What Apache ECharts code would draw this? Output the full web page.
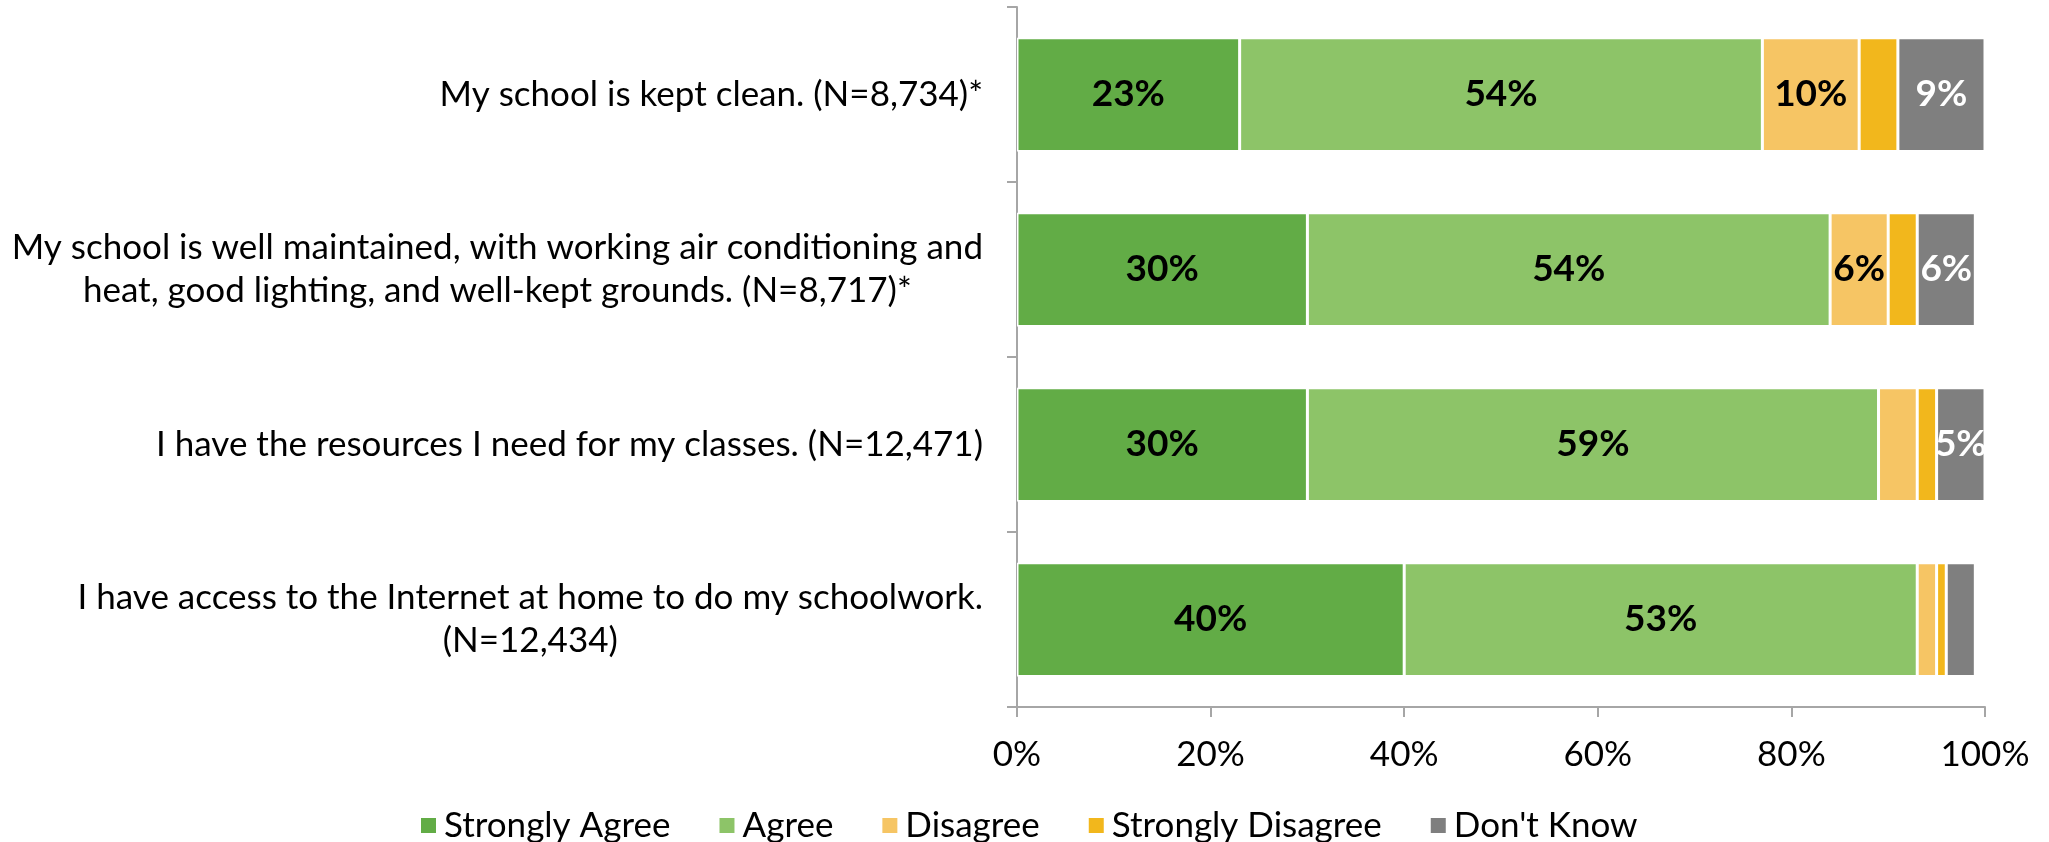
<!DOCTYPE html>
<html>
<head>
<meta charset="utf-8">
<script src="https://cdn.jsdelivr.net/npm/echarts@6/dist/echarts.min.js"></script>
<style>
html,body{margin:0;padding:0;background:#fff;}
#chart{width:2049px;height:842px;}
</style>
</head>
<body>
<div id="chart"></div>
<script>
const categories = [
  "My school is kept clean. (N=8,734)*",
  "My school is well maintained, with working air conditioning and\nheat, good lighting, and well-kept grounds. (N=8,717)*",
  "I have the resources I need for my classes. (N=12,471)",
  "I have access to the Internet at home to do my schoolwork.\n(N=12,434)"
];
const seriesNames = ["Strongly Agree", "Agree", "Disagree", "Strongly Disagree", "Don't Know"];
const stronglyAgree = [23, 30, 30, 40];
const agree = [54, 54, 59, 53];
const disagree = [10, 6, 4, 2];
const stronglyDisagree = [4, 3, 2, 1];
const dontKnow = [9, 6, 5, 3];
const xTicks = ["0%", "20%", "40%", "60%", "80%", "100%"];

const colors = ["#62AC46", "#8DC468", "#F6C564", "#F2B71C", "#7F7F7F"];
const labelColors = ["#000", "#000", "#000", "#000", "#fff"];
const values = [stronglyAgree, agree, disagree, stronglyDisagree, dontKnow];
const FONT = "Lato, 'Open Sans', sans-serif";
const FS = 35;

const chart = echarts.init(document.getElementById('chart'), null, {renderer: 'canvas'});
const series = seriesNames.map((name, i) => ({
  name: name,
  type: 'bar',
  stack: 'total',
  barWidth: '65%',
  data: values[i],
  itemStyle: {color: colors[i], borderColor: '#fff', borderWidth: 1.5},
  label: {
    show: true,
    position: 'inside',
    fontFamily: FONT,
    fontWeight: 'bold',
    fontSize: 37,
    color: labelColors[i],
    formatter: p => p.value >= 5 ? p.value + '%' : ''
  },
  emphasis: {disabled: true}
}));

chart.setOption({
  animation: false,
  color: colors,
  grid: {left: 1017, right: 64, top: 7, bottom: 135, containLabel: false, outerBoundsMode: 'none'},
  xAxis: {
    type: 'value',
    min: 0, max: 100, interval: 20,
    axisLine: {show: true, lineStyle: {color: '#A6A6A6', width: 2}},
    axisTick: {show: true, length: 10, lineStyle: {color: '#A6A6A6', width: 2}},
    splitLine: {show: false},
    axisLabel: {
      margin: 30,
      fontFamily: FONT, fontSize: FS, color: '#000',
      formatter: v => xTicks[Math.round(v / 20)]
    }
  },
  yAxis: {
    type: 'category',
    inverse: true,
    data: categories,
    axisLine: {show: true, lineStyle: {color: '#A6A6A6', width: 2}},
    axisTick: {show: true, length: 10, lineStyle: {color: '#A6A6A6', width: 2}},
    axisLabel: {
      margin: 34,
      align: 'right',
      fontFamily: FONT, fontSize: FS, color: '#000',
      lineHeight: 43,
      formatter: v => v.split('\n').map(s => '{c|' + s + '}').join('\n'),
      rich: {c: {align: 'center', fontFamily: FONT, fontSize: FS, color: '#000', lineHeight: 43}}
    }
  },
  legend: {
    data: seriesNames,
    left: 414,
    top: 803,
    itemWidth: 17,
    itemHeight: 17,
    itemGap: 47,
    icon: 'rect',
    textStyle: {fontFamily: FONT, fontSize: FS, color: '#000', padding: [0, 0, 0, 2]}
  },
  series: series
});
</script>
</body>
</html>
